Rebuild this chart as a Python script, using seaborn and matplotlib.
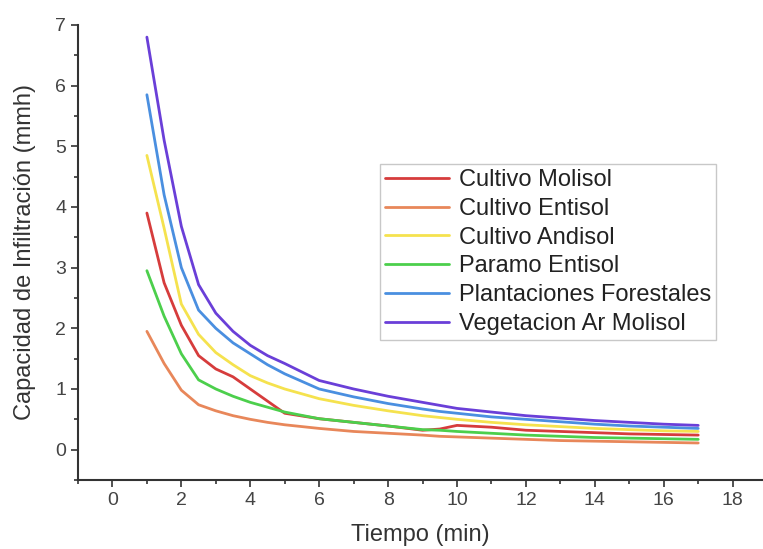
import numpy as np
import pandas as pd
import seaborn as sns
import matplotlib.pyplot as plt
from matplotlib.ticker import MultipleLocator

tiempo = [1, 1.5, 2, 2.5, 3, 3.5, 4, 4.5, 5, 6, 7, 8, 9, 9.5, 10, 11, 12, 13, 14, 15, 16, 17]

cultivo_molisol = [3.9, 2.75, 2.05, 1.55, 1.33, 1.2, 1.0, 0.8, 0.6, 0.51, 0.45, 0.39, 0.32, 0.34,
                   0.40, 0.37, 0.32, 0.30, 0.28, 0.26, 0.25, 0.24]
cultivo_entisol = [1.95, 1.42, 0.98, 0.74, 0.64, 0.56, 0.5, 0.45, 0.41, 0.35, 0.30, 0.27, 0.24, 0.22,
                   0.21, 0.19, 0.17, 0.15, 0.14, 0.13, 0.12, 0.11]
cultivo_andisol = [4.85, 3.65, 2.4, 1.9, 1.6, 1.4, 1.22, 1.1, 1.0, 0.84, 0.73, 0.64, 0.56, 0.53,
                   0.5, 0.45, 0.41, 0.38, 0.35, 0.33, 0.31, 0.30]
paramo_entisol = [2.95, 2.2, 1.58, 1.15, 1.0, 0.88, 0.78, 0.7, 0.62, 0.51, 0.45, 0.39, 0.33, 0.32,
                  0.30, 0.27, 0.24, 0.22, 0.20, 0.19, 0.18, 0.17]
plantaciones = [5.85, 4.2, 3.0, 2.3, 2.0, 1.76, 1.58, 1.4, 1.25, 1.0, 0.87, 0.76, 0.67, 0.63,
                0.6, 0.54, 0.5, 0.46, 0.42, 0.39, 0.37, 0.35]
vegetacion = [6.8, 5.1, 3.68, 2.72, 2.25, 1.95, 1.72, 1.55, 1.42, 1.14, 1.0, 0.88, 0.78, 0.73,
              0.68, 0.62, 0.56, 0.52, 0.48, 0.45, 0.42, 0.40]

series = ['Cultivo Molisol', 'Cultivo Entisol', 'Cultivo Andisol', 'Paramo Entisol',
          'Plantaciones Forestales', 'Vegetacion Ar Molisol']
valores = [cultivo_molisol, cultivo_entisol, cultivo_andisol, paramo_entisol, plantaciones, vegetacion]
colores = ['#d63c3c', '#e8875a', '#f5e24e', '#4ccf4c', '#4a8fe0', '#6a3fd8']

df = pd.concat([pd.DataFrame({'Tiempo': tiempo, 'Capacidad': v, 'Serie': s})
                for s, v in zip(series, valores)], ignore_index=True)

sns.set_style('ticks')
plt.rcParams['font.family'] = ['Liberation Sans', 'DejaVu Sans']

fig = plt.figure(figsize=(7.63, 5.49), dpi=100)
ax = fig.add_axes([0.1022, 0.1257, 0.8978, 0.8288])

sns.lineplot(data=df, x='Tiempo', y='Capacidad', hue='Serie', hue_order=series,
             palette=dict(zip(series, colores)), linewidth=2, sort=False, ax=ax)

ax.set_xlim(-1, 18.88)
ax.set_ylim(-0.5, 7)
ax.xaxis.set_major_locator(MultipleLocator(2))
ax.xaxis.set_minor_locator(MultipleLocator(1))
ax.yaxis.set_major_locator(MultipleLocator(1))
ax.yaxis.set_minor_locator(MultipleLocator(0.5))
ax.tick_params(which='major', direction='out', length=5, width=1.2, colors='#333333',
               labelsize=14, labelcolor='#444444')
ax.tick_params(which='minor', direction='out', length=3, width=1.2, colors='#333333')
for side in ['top', 'right']:
    ax.spines[side].set_visible(False)
for side in ['left', 'bottom']:
    ax.spines[side].set_linewidth(1.5)
    ax.spines[side].set_color('#333333')

ax.set_xlabel('Tiempo (min)', fontsize=17, color='#333333', labelpad=11)
ax.set_ylabel('Capacidad de Infiltración (mmh)', fontsize=17, color='#333333', labelpad=14)

handles, labels = ax.get_legend_handles_labels()
leg = ax.legend(handles, labels, loc='upper left', bbox_to_anchor=(0.441, 0.694),
                fontsize=17, frameon=True, fancybox=False, labelspacing=0.29,
                handlelength=2.7, handletextpad=0.45, borderpad=0.2, borderaxespad=0)
leg.get_frame().set_edgecolor('#bbbbbb')
leg.get_frame().set_linewidth(1)
for t in leg.get_texts():
    t.set_color('#222222')

fig.savefig('out.png', dpi=100)
